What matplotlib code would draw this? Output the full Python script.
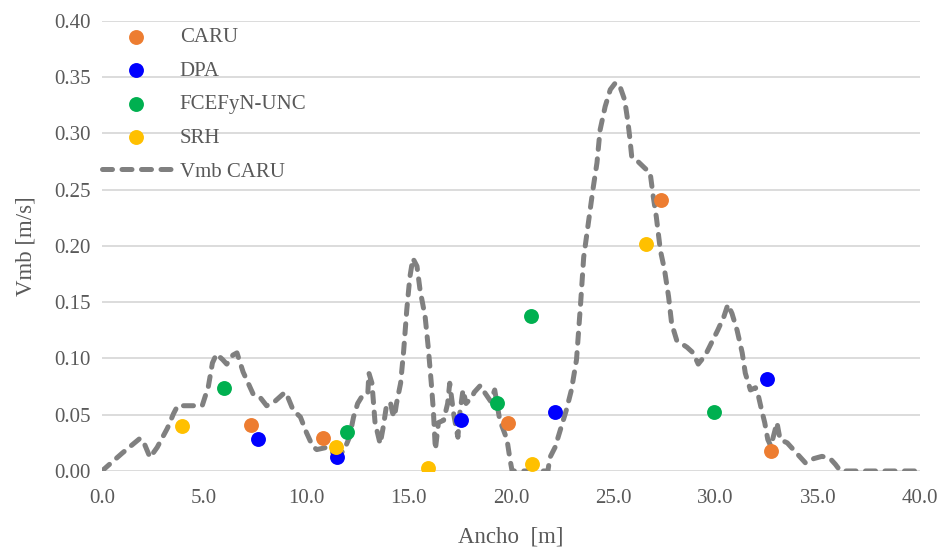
import matplotlib.pyplot as plt

# Puntos medidos por institución (Ancho [m], Vmb [m/s])
caru_x = [7.3, 10.8, 19.85, 27.35, 32.7]
caru_y = [0.041, 0.029, 0.043, 0.241, 0.018]

dpa_x = [7.65, 11.5, 17.55, 22.15, 32.5]
dpa_y = [0.028, 0.012, 0.045, 0.052, 0.082]

fcefyn_x = [5.95, 12.0, 19.3, 20.95, 29.9]
fcefyn_y = [0.074, 0.035, 0.060, 0.138, 0.052]

srh_x = [3.9, 11.45, 15.95, 21.0, 26.6]
srh_y = [0.040, 0.021, 0.003, 0.006, 0.202]

# Perfil de velocidad media CARU
vmb_x = [0.0, 1.0, 1.86, 2.1, 2.35, 2.7, 3.2, 3.5, 3.7, 4.3, 4.9, 5.2, 5.4, 5.6,
         5.9, 6.1, 6.4, 6.6, 6.9, 7.15, 7.4, 7.75, 8.05, 8.4, 8.95, 9.1, 9.35,
         9.7, 10.0, 10.3, 10.5, 11.0, 11.3, 11.8, 12.1, 12.3, 12.5, 12.8, 13.0,
         13.05, 13.2, 13.35, 13.6, 13.75, 13.9, 14.1, 14.2, 14.3, 14.4, 14.6,
         14.75, 14.9, 15.05, 15.2, 15.4, 15.55, 15.8, 15.95, 16.1, 16.2, 16.3,
         16.45, 16.7, 16.9, 17.0, 17.2, 17.4, 17.5, 17.65, 17.8, 18.1, 18.2,
         18.5, 18.7, 19.0, 19.2, 19.45, 19.8, 19.95, 20.05, 21.8, 21.9, 22.15,
         22.4, 22.7, 22.95, 23.2, 23.4, 23.55, 23.8, 24.0, 24.2, 24.35, 24.6,
         24.85, 25.1, 25.3, 25.55, 25.7, 25.8, 25.9, 26.15, 26.55, 26.8, 26.95,
         27.1, 27.3, 27.5, 27.7, 27.85, 28.1, 28.6, 28.9, 29.15, 29.5, 29.8,
         30.1, 30.4, 30.6, 30.8, 31.05, 31.3, 31.45, 31.7, 31.95, 32.1, 32.25,
         32.4, 32.55, 32.7, 33.0, 33.15, 33.5, 33.8, 34.1, 34.4, 34.8, 35.2,
         35.6, 35.85, 36.1, 40.0]
vmb_y = [0.0, 0.016, 0.029, 0.023, 0.012, 0.021, 0.038, 0.051, 0.058, 0.058,
         0.058, 0.075, 0.096, 0.104, 0.099, 0.095, 0.103, 0.105, 0.088, 0.078,
         0.068, 0.065, 0.058, 0.061, 0.070, 0.065, 0.054, 0.048, 0.034, 0.022,
         0.019, 0.021, 0.016, 0.017, 0.030, 0.048, 0.060, 0.069, 0.070, 0.087,
         0.078, 0.043, 0.024, 0.039, 0.057, 0.061, 0.052, 0.048, 0.060, 0.078,
         0.107, 0.143, 0.172, 0.189, 0.182, 0.161, 0.137, 0.110, 0.078, 0.054,
         0.019, 0.043, 0.045, 0.060, 0.078, 0.050, 0.030, 0.052, 0.072, 0.060,
         0.066, 0.070, 0.076, 0.070, 0.062, 0.072, 0.045, 0.028, 0.010, 0.0,
         0.0, 0.012, 0.021, 0.036, 0.054, 0.072, 0.099, 0.149, 0.190, 0.223,
         0.250, 0.274, 0.303, 0.324, 0.339, 0.345, 0.343, 0.330, 0.312, 0.297,
         0.279, 0.276, 0.269, 0.265, 0.244, 0.226, 0.196, 0.179, 0.155, 0.131,
         0.116, 0.110, 0.105, 0.095, 0.103, 0.114, 0.125, 0.137, 0.148, 0.140,
         0.125, 0.105, 0.087, 0.072, 0.074, 0.066, 0.054, 0.043, 0.028, 0.022,
         0.043, 0.028, 0.025, 0.019, 0.013, 0.007, 0.011, 0.013, 0.011, 0.006,
         0.0, 0.0]

x_ticks = [0, 5, 10, 15, 20, 25, 30, 35, 40]
y_ticks = [0.0, 0.05, 0.10, 0.15, 0.20, 0.25, 0.30, 0.35, 0.40]

text_color = '#595959'
plt.rcParams['font.family'] = ['Liberation Serif', 'DejaVu Serif']

fig = plt.figure(figsize=(9.38, 5.47), dpi=100)
ax = fig.add_axes([0.1087, 0.139, 0.8723, 0.8226])

ms = 115
h_caru = ax.scatter(caru_x, caru_y, s=ms, color='#ED7D31', zorder=4, label='CARU', linewidths=0)
h_dpa = ax.scatter(dpa_x, dpa_y, s=ms, color='#0000FF', zorder=4, label='DPA', linewidths=0)
h_fce = ax.scatter(fcefyn_x, fcefyn_y, s=ms, color='#00B050', zorder=4, label='FCEFyN-UNC', linewidths=0)
h_srh = ax.scatter(srh_x, srh_y, s=ms, color='#FFC000', zorder=4, label='SRH', linewidths=0)
h_vmb, = ax.plot(vmb_x, vmb_y, color='#808080', lw=3.6, dashes=(2.0, 1.9),
                 dash_capstyle='round', solid_capstyle='round', zorder=3, label='Vmb CARU')

ax.set_xlim(0, 40)
ax.set_ylim(0, 0.40)
ax.set_xticks(x_ticks)
ax.set_xticklabels([f'{v:.1f}' for v in x_ticks])
ax.set_yticks(y_ticks)
ax.set_yticklabels([f'{v:.2f}' for v in y_ticks])
ax.tick_params(length=0, labelsize=15, labelcolor=text_color)
ax.tick_params(axis='x', pad=13)
ax.tick_params(axis='y', pad=8)

ax.grid(axis='y', color='#D9D9D9', lw=1.3)
ax.set_axisbelow(True)
for s in ax.spines.values():
    s.set_visible(False)

ax.set_xlabel('Ancho  [m]', fontsize=16.5, color=text_color, labelpad=13)
ax.set_ylabel('Vmb [m/s]', fontsize=16.5, color=text_color, labelpad=13)

ax.legend(handles=[h_caru, h_dpa, h_fce, h_srh, h_vmb], loc='upper left',
          bbox_to_anchor=(0.0, 0.985), frameon=False, fontsize=15,
          labelcolor=text_color, handlelength=3.3, handletextpad=0.43,
          labelspacing=0.67, borderpad=0, borderaxespad=0, scatterpoints=1)

fig.savefig('out.png', dpi=100)
